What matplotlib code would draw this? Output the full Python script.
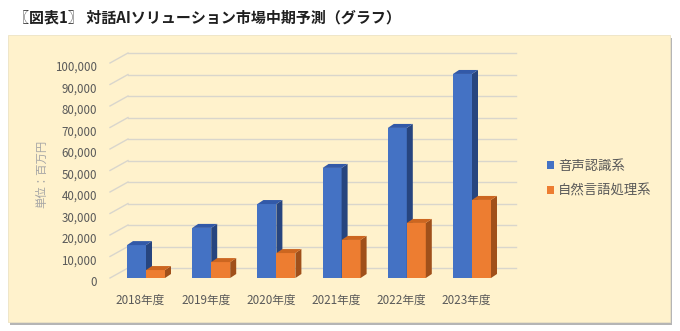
import matplotlib
matplotlib.use('Agg')
import matplotlib.pyplot as plt
from matplotlib.patches import Rectangle, Polygon, Patch
from matplotlib.transforms import ScaledTranslation

plt.rcParams['font.family'] = ['Noto Sans CJK JP', 'DejaVu Sans']

# ---------------- data ----------------
title = '〖図表1〗 対話AIソリューション市場中期予測（グラフ）'
categories = ['2018年度', '2019年度', '2020年度', '2021年度', '2022年度', '2023年度']
series_names = ['音声認識系', '自然言語処理系']
voice = [15300, 23300, 34400, 51200, 69800, 94900]
nlp = [3700, 7400, 11600, 17700, 25600, 36300]
yticks = list(range(0, 100001, 10000))
ytick_labels = [f'{v:,}' for v in yticks]
unit_label = '単位：百万円'

# ---------------- style ----------------
front_colors = ['#4472C4', '#ED7D31']
top_colors = ['#3259A8', '#CC6620']
side_colors = ['#27457F', '#A0501A']
grid_color = '#D9D6CC'
text_gray = '#595959'

W, H = 680, 331
fig = plt.figure(figsize=(W / 100, H / 100), dpi=100)
fig.patch.set_facecolor('white')


def fx(x):
    return x / W


def fy(y):
    return 1 - y / H


# chart area (with a shadow on right/bottom)
fig.patches.append(Rectangle((fx(10), fy(324.5)), 662 / W, 287 / H, transform=fig.transFigure,
                             facecolor='#B5B5B5', edgecolor='none', zorder=-3))
fig.patches.append(Rectangle((fx(8), fy(322)), 662 / W, 287 / H, transform=fig.transFigure,
                             facecolor='#FFF2CC', edgecolor='#EDE3C4', lw=0.6, zorder=-2))

# plot axes (front plane)
ax_l, ax_r, ax_t, ax_b = 110, 498, 63, 278
ax = fig.add_axes([fx(ax_l), fy(ax_b), (ax_r - ax_l) / W, (ax_b - ax_t) / H])
ax.set_facecolor('none')
for s in ax.spines.values():
    s.set_visible(False)

pitch = 65.2
x0_px = 146
xlim = ((ax_l - x0_px) / pitch, (ax_r - x0_px) / pitch)
ax.set_xlim(*xlim)
ax.set_ylim(0, 100000)

ax_w_px = ax_r - ax_l
ax_h_px = ax_b - ax_t
xr = xlim[1] - xlim[0]


def px_to_dx(p):
    return p / ax_w_px * xr


def px_to_dy(p):
    return p / ax_h_px * 100000


# back wall gridlines + left diagonal
wall_dx_ax = 18 / ax_w_px
wall_dy = px_to_dy(10)
ytr = ax.get_yaxis_transform()
for v in yticks:
    ax.plot([wall_dx_ax, 1 + wall_dx_ax], [v + wall_dy, v + wall_dy], transform=ytr,
            color=grid_color, lw=1.0, clip_on=False, zorder=1)
    ax.plot([0, wall_dx_ax], [v, v + wall_dy], transform=ytr,
            color=grid_color, lw=1.0, clip_on=False, zorder=1)

# bars with 3D faces
bw = 19 / pitch
ddx = px_to_dx(6)
ddy = px_to_dy(4)
xs = list(range(len(categories)))
for k, vals in enumerate([voice, nlp]):
    offs = -bw / 2 if k == 0 else bw / 2
    bars = ax.bar([x + offs for x in xs], vals, bw, color=front_colors[k],
                  zorder=3 + k, linewidth=0)
    for r in bars:
        x0 = r.get_x()
        x1 = x0 + r.get_width()
        h = r.get_height()
        ax.add_patch(Polygon([(x1, 0), (x1, h), (x1 + ddx, h + ddy), (x1 + ddx, ddy)],
                             closed=True, facecolor=side_colors[k], edgecolor='none',
                             zorder=3 + k, clip_on=False))
        ax.add_patch(Polygon([(x0, h), (x1, h), (x1 + ddx, h + ddy), (x0 + ddx, h + ddy)],
                             closed=True, facecolor=top_colors[k], edgecolor='none',
                             zorder=3 + k, clip_on=False))

# ticks
ax.set_yticks(yticks, ytick_labels)
ax.set_xticks(xs, categories)
ax.tick_params(axis='y', length=0, pad=9.4, labelsize=8.3, labelcolor=text_gray)
ax.tick_params(axis='x', length=0, pad=11.5, labelsize=8.4, labelcolor=text_gray)
for lbl in ax.get_yticklabels():
    lbl.set_transform(lbl.get_transform() + ScaledTranslation(0, -3 / 100, fig.dpi_scale_trans))
for lbl in ax.get_xticklabels():
    lbl.set_transform(lbl.get_transform() + ScaledTranslation(-5.5 / 100, 0, fig.dpi_scale_trans))

# unit label
fig.text(fx(42), fy(174), unit_label, rotation=90, ha='center', va='center',
         fontsize=8.2, color='#A6A6A6')

# legend
handles = [Patch(facecolor=c, edgecolor='none') for c in front_colors]
fig.legend(handles, series_names, loc='upper left', bbox_to_anchor=(fx(547), fy(159)),
           frameon=False, fontsize=9.6, handlelength=0.55, handleheight=0.55,
           handletextpad=0.3, labelspacing=0.8, borderpad=0, borderaxespad=0,
           labelcolor=text_gray)

# title
fig.text(fx(14), fy(18), title, ha='left', va='center', fontsize=10.8,
         fontweight='bold', color='#1F1F1F')

fig.savefig('out.png', dpi=100)
